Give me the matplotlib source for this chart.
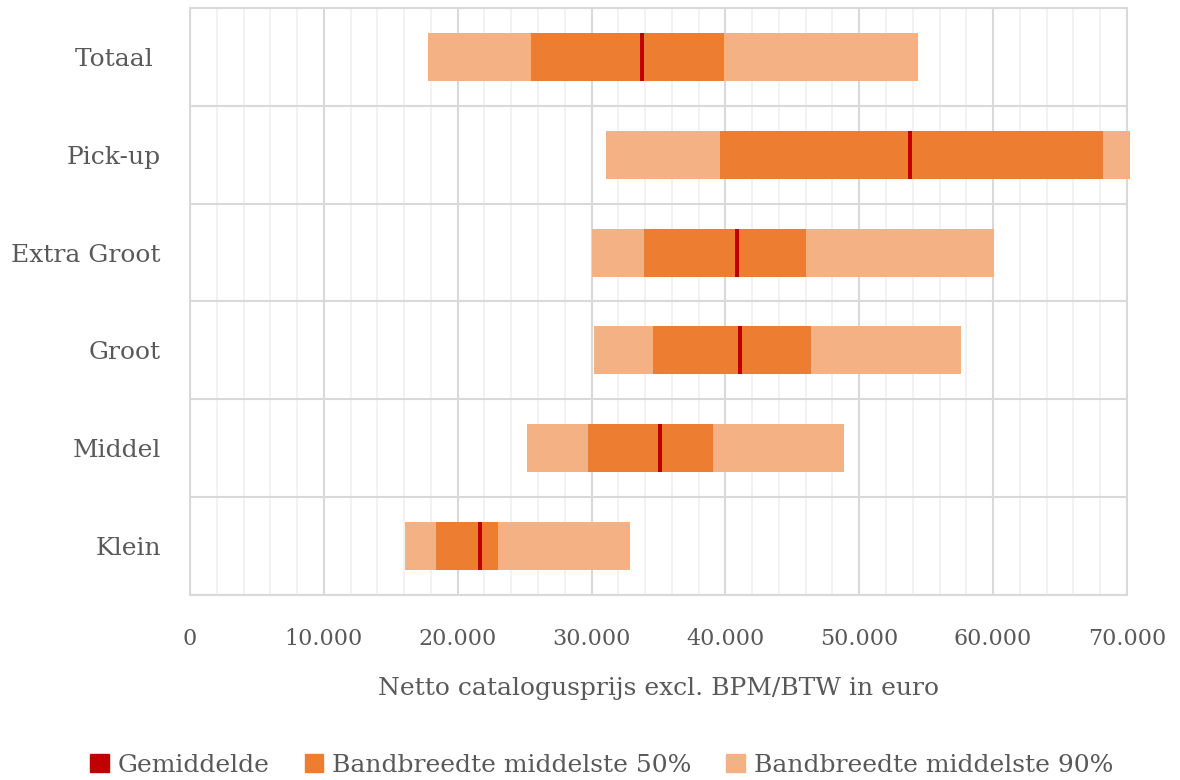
import numpy as np
import matplotlib.pyplot as plt
from matplotlib.patches import Patch
from matplotlib.ticker import MultipleLocator, FuncFormatter

# Categories (top to bottom) and price percentiles in euro
categories = ['Totaal ', 'Pick-up', 'Extra Groot', 'Groot', 'Middel', 'Klein']
p5 = [17800, 31100, 30000, 30200, 25200, 16100]
p25 = [25500, 39600, 33900, 34600, 29700, 18400]
mean = [33800, 53800, 40900, 41100, 35100, 21700]
p75 = [39900, 68200, 46000, 46400, 39100, 23000]
p95 = [54400, 70200, 60100, 57600, 48900, 32900]

c_light = '#F4B183'
c_dark = '#ED7D31'
c_mean = '#C00000'
txt = '#595959'
grid_major = '#D9D9D9'
grid_minor = '#F0F0F0'

plt.rcParams['font.family'] = ['DejaVu Serif']

fig = plt.figure(figsize=(11.8, 7.8), dpi=100)
ax = fig.add_axes([0.161, 0.237, 0.794, 0.753])

y = np.arange(len(categories))
h = 0.49
p5a, p25a, meana, p75a, p95a = map(np.array, (p5, p25, mean, p75, p95))

ax.barh(y, p95a - p5a, left=p5a, height=h, color=c_light, zorder=3, clip_on=False)
ax.barh(y, p75a - p25a, left=p25a, height=h, color=c_dark, zorder=4)
mw = 300
ax.barh(y, mw, left=meana - mw / 2, height=h, color=c_mean, zorder=5)

ax.set_xlim(0, 70000)
ax.set_ylim(5.5, -0.5)
ax.xaxis.set_major_locator(MultipleLocator(10000))
ax.xaxis.set_minor_locator(MultipleLocator(2000))
ax.xaxis.set_major_formatter(FuncFormatter(lambda v, p: f'{int(v):,}'.replace(',', '.')))
ax.set_yticks(y)
ax.set_yticklabels(categories)
ax.yaxis.set_minor_locator(MultipleLocator(1, offset=0.5))

ax.grid(which='major', axis='x', color=grid_major, lw=1.5, zorder=0)
ax.grid(which='minor', axis='x', color=grid_minor, lw=1.2, zorder=0)
ax.grid(which='minor', axis='y', color=grid_major, lw=1.5, zorder=1)
ax.grid(which='major', axis='y', visible=False)

for s in ax.spines.values():
    s.set_color(grid_major)
    s.set_linewidth(1.5)

ax.tick_params(which='both', length=0)
ax.tick_params(axis='x', labelsize=16, colors=txt, pad=24)
ax.tick_params(axis='y', labelsize=18, colors=txt, pad=21)

ax.set_xlabel('Netto catalogusprijs excl. BPM/BTW in euro', fontsize=18, color=txt, labelpad=19)

handles = [Patch(color=c_mean, label='Gemiddelde'),
           Patch(color=c_dark, label='Bandbreedte middelste 50%'),
           Patch(color=c_light, label='Bandbreedte middelste 90%')]
leg = fig.legend(handles=handles, loc='lower center', bbox_to_anchor=(0.51, -0.025), ncol=3,
                 frameon=False, fontsize=18, handlelength=0.75, handleheight=0.75,
                 handletextpad=0.35, columnspacing=1.4)
for t in leg.get_texts():
    t.set_color(txt)

fig.savefig('out.png', dpi=100)
